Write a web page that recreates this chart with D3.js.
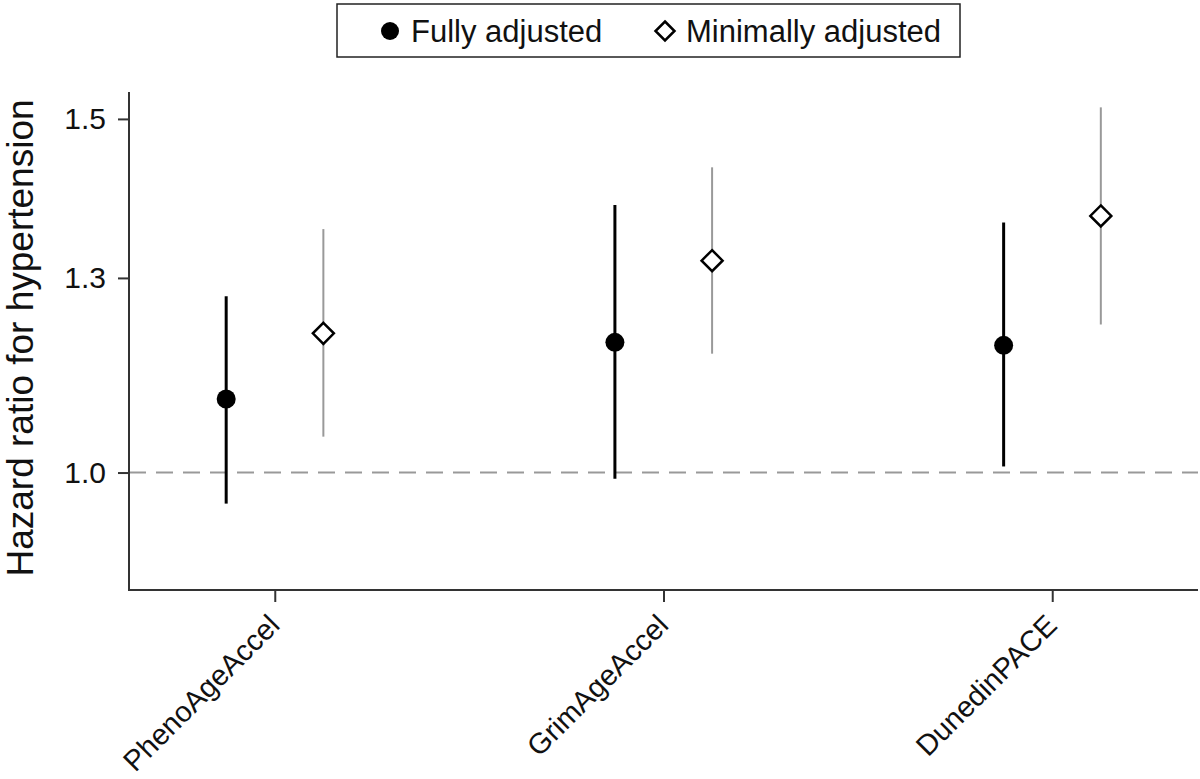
<!DOCTYPE html>
<html>
<head>
<meta charset="utf-8">
<script src="https://cdn.jsdelivr.net/npm/d3@7"></script>
<style>
  html, body { margin: 0; padding: 0; background: #fff; }
  svg { display: block; }
  text { font-family: "Liberation Sans", Arial, sans-serif; fill: #111; }
</style>
</head>
<body>
<svg id="chart" width="1200" height="779"></svg>
<script>
// ---- data ----
const categories = ["PhenoAgeAccel", "GrimAgeAccel", "DunedinPACE"];
const seriesNames = ["Fully adjusted", "Minimally adjusted"];
const fullyHR    = [1.088, 1.161, 1.157];
const fullyLow   = [0.965, 0.993, 1.007];
const fullyHigh  = [1.224, 1.359, 1.332];
const minimalHR   = [1.173, 1.275, 1.342];
const minimalLow  = [1.042, 1.146, 1.185];
const minimalHigh = [1.322, 1.419, 1.520];
const yTickValues = [1.0, 1.25, 1.5];
const yTickLabels = ["1.0", "1.3", "1.5"];
const yLabel = "Hazard ratio for hypertension";

(function () {
// ---- layout ----
const svg = d3.select("#chart");
const pLeft = 129, pRight = 1198, pTop = 92, pBottom = 590;

const x = d3.scalePoint().domain(categories).range([pLeft, pRight]).padding(0.375);
const y = d3.scaleLog().domain([0.874, 1.547]).range([pBottom, pTop]);
const off = x.step() * 0.125;

// reference line at 1
svg.append("line")
  .attr("x1", pLeft).attr("x2", pRight)
  .attr("y1", y(1)).attr("y2", y(1))
  .attr("stroke", "#999").attr("stroke-width", 2)
  .attr("stroke-dasharray", "17,10");

// y axis
const yAxis = d3.axisLeft(y).tickValues(yTickValues)
  .tickFormat((d, i) => yTickLabels[i]).tickSize(11).tickPadding(12);
const gy = svg.append("g").attr("transform", `translate(${pLeft},0)`).call(yAxis);
gy.select(".domain").remove();
gy.append("line").attr("x1", 0).attr("x2", 0).attr("y1", pTop).attr("y2", pBottom + 1)
  .attr("stroke", "#333").attr("stroke-width", 2);
gy.selectAll(".tick line").attr("stroke", "#333").attr("stroke-width", 2);
gy.selectAll(".tick text").attr("font-size", 30).attr("fill", "#111")
  .attr("font-family", "Liberation Sans, Arial, sans-serif");

// x axis
const xAxis = d3.axisBottom(x).tickSize(12).tickFormat(d => d);
const gx = svg.append("g").attr("transform", `translate(0,${pBottom})`).call(xAxis);
gx.select(".domain").remove();
gx.append("line").attr("x1", pLeft - 1).attr("x2", pRight).attr("y1", 0).attr("y2", 0)
  .attr("stroke", "#333").attr("stroke-width", 2);
gx.selectAll(".tick line").attr("stroke", "#333").attr("stroke-width", 2);
gx.selectAll(".tick text")
  .attr("font-size", 29).attr("fill", "#111")
  .attr("font-family", "Liberation Sans, Arial, sans-serif")
  .attr("text-anchor", "end")
  .attr("dy", null).attr("y", null)
  .attr("transform", "translate(6,37) rotate(-45)");

// y label
svg.append("text")
  .attr("transform", `translate(33,338) rotate(-90)`)
  .attr("text-anchor", "middle")
  .attr("font-size", 37)
  .text(yLabel);

const minData = categories.map((c, i) => ({c, hr: minimalHR[i], lo: minimalLow[i], hi: minimalHigh[i]}));
const fullData = categories.map((c, i) => ({c, hr: fullyHR[i], lo: fullyLow[i], hi: fullyHigh[i]}));

svg.append("g").selectAll("line").data(fullData).join("line")
  .attr("x1", d => x(d.c) - off).attr("x2", d => x(d.c) - off)
  .attr("y1", d => y(d.lo)).attr("y2", d => y(d.hi))
  .attr("stroke", "#000").attr("stroke-width", 3);
svg.append("g").selectAll("circle").data(fullData).join("circle")
  .attr("cx", d => x(d.c) - off).attr("cy", d => y(d.hr)).attr("r", 9.5)
  .attr("fill", "#000");

svg.append("g").selectAll("line").data(minData).join("line")
  .attr("x1", d => x(d.c) + off).attr("x2", d => x(d.c) + off)
  .attr("y1", d => y(d.lo)).attr("y2", d => y(d.hi))
  .attr("stroke", "#999").attr("stroke-width", 2);
const dm = 10.5;
svg.append("g").selectAll("path").data(minData).join("path")
  .attr("transform", d => `translate(${x(d.c) + off},${y(d.hr)})`)
  .attr("d", `M0,${-dm}L${dm},0L0,${dm}L${-dm},0Z`)
  .attr("fill", "#fff").attr("stroke", "#000").attr("stroke-width", 2.5);

// legend
const lg = svg.append("g");
lg.append("rect").attr("x", 337).attr("y", 4).attr("width", 623).attr("height", 53)
  .attr("fill", "#fff").attr("stroke", "#222").attr("stroke-width", 1.5);
lg.append("circle").attr("cx", 390).attr("cy", 31).attr("r", 9).attr("fill", "#000");
lg.append("text").attr("x", 411).attr("y", 42).attr("font-size", 31).text(seriesNames[0]);
lg.append("path").attr("transform", "translate(665,31)")
  .attr("d", `M0,${-dm + 1}L${dm - 1},0L0,${dm - 1}L${-dm + 1},0Z`)
  .attr("fill", "#fff").attr("stroke", "#000").attr("stroke-width", 2.5);
lg.append("text").attr("x", 686).attr("y", 42).attr("font-size", 31).text(seriesNames[1]);
})();
</script>
</body>
</html>
